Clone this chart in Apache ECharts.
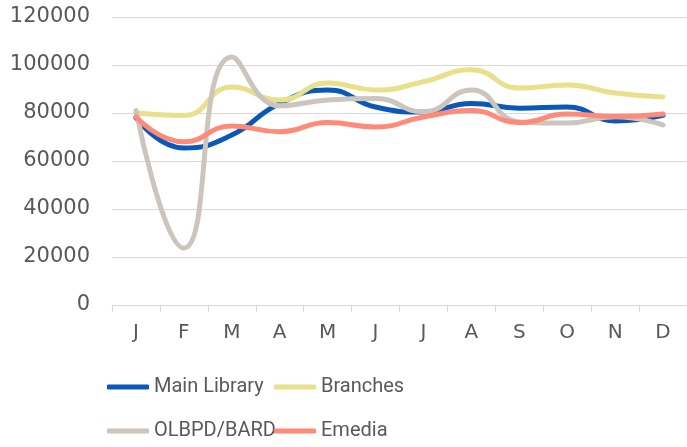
<!DOCTYPE html>
<html><head><meta charset="utf-8">
<script src="https://cdn.jsdelivr.net/npm/echarts@6/dist/echarts.min.js"></script>
<style>html,body{margin:0;padding:0;background:#fff}#c{width:687px;height:447px}</style>
</head><body><div id="c"></div>
<script>
const months = ['J','F','M','A','M','J','J','A','S','O','N','D'];
const mainLibrary = [78000, 65400, 70800, 84000, 89600, 82500, 80400, 84000, 82000, 82500, 76700, 79000];
const branches    = [80000, 79000, 90800, 85400, 92500, 89600, 93000, 98000, 90400, 91700, 88300, 86700];
const olbpd       = [81000, 23700, 103300, 83000, 85400, 86000, 80500, 89600, 76300, 75800, 78400, 75000];
const emedia      = [78300, 68000, 74600, 72200, 76000, 74200, 78300, 81000, 76000, 79600, 78500, 79600];
const yTicks = {min: 0, max: 120000, interval: 20000};

const chart = echarts.init(document.getElementById('c'));
const axisFont = 'DejaVu Sans, sans-serif';
const legendFont = 'Roboto, sans-serif';
function s(name, data, color) {
  return {name, type: 'line', data, smooth: 0.5, symbol: 'none',
    lineStyle: {width: 5, color, cap: 'round'}, itemStyle: {color}};
}
function lg(name, left, top) {
  return {
    left, top, padding: 0, itemWidth: 42, itemHeight: 5, itemGap: 0, icon: 'roundRect',
    textStyle: {fontFamily: legendFont, fontSize: 20, color: '#595959'},
    data: [name]
  };
}
chart.setOption({
  animation: false,
  grid: {left: 112, right: 0, top: 17, bottom: 142, containLabel: false},
  xAxis: {type: 'category', data: months, boundaryGap: true,
    axisLine: {lineStyle: {color: '#d9d9d9', width: 1}},
    axisTick: {show: true, length: 7, lineStyle: {color: '#d9d9d9'}},
    axisLabel: {fontFamily: axisFont, fontSize: 20, color: '#595959', margin: 18}},
  yAxis: {type: 'value', min: yTicks.min, max: yTicks.max, interval: yTicks.interval,
    axisLine: {show: false}, axisTick: {show: false},
    splitLine: {lineStyle: {color: '#d9d9d9', width: 1}},
    axisLabel: {fontFamily: axisFont, fontSize: 21, color: '#595959', margin: 22,
      formatter: v => String(v)}},
  legend: [
    lg('Main Library', 107, 377),
    lg('Branches', 274, 377),
    lg('OLBPD/BARD', 107, 421),
    lg('Emedia', 274, 421)
  ],
  series: [
    s('Main Library', mainLibrary, '#0A58B8'),
    s('Branches', branches, '#E8E08A'),
    s('OLBPD/BARD', olbpd, '#CCC5BD'),
    s('Emedia', emedia, '#FF8A7A')
  ]
});
</script></body></html>
